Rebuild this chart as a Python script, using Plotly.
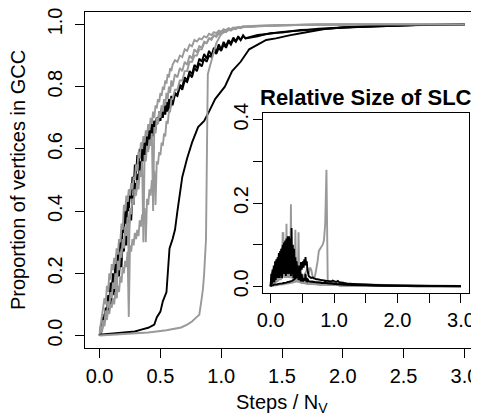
import plotly.graph_objects as go

# ---- shared sampling grids (Steps / N_V) ----
X_FINE = [0.00, 0.01, 0.02, 0.03, 0.04, 0.05, 0.06, 0.07, 0.08, 0.09, 0.10,
          0.11, 0.12, 0.13, 0.14, 0.15, 0.16, 0.17, 0.18, 0.19, 0.20,
          0.21, 0.22, 0.23, 0.24, 0.25, 0.26, 0.27, 0.28, 0.29, 0.30,
          0.31, 0.32, 0.33, 0.34, 0.35, 0.36, 0.37, 0.38, 0.39, 0.40,
          0.41, 0.42, 0.43, 0.44, 0.45, 0.46, 0.47, 0.48, 0.49, 0.50,
          0.51, 0.52, 0.53, 0.54, 0.55, 0.56, 0.57, 0.58, 0.59, 0.60]
X_MID = [0.62, 0.64, 0.66, 0.68, 0.70, 0.72, 0.74, 0.76, 0.78, 0.80,
         0.82, 0.84, 0.86, 0.88, 0.90, 0.92, 0.94, 0.96, 0.98, 1.00,
         1.02, 1.04, 1.06, 1.08, 1.10, 1.12, 1.14, 1.16, 1.18, 1.20]
X_TAIL = [1.3, 1.4, 1.5, 1.65, 1.8, 2.0, 2.3, 2.6, 3.0]

# ---- GCC proportion, noisy runs ----
B1_GCC = [.00, .03, .02, .06, .04, .09, .07, .13, .11, .17, .15,
          .20, .17, .23, .20, .27, .24, .31, .28, .35, .33,
          .40, .36, .43, .40, .47, .44, .51, .47, .55, .52,
          .58, .55, .60, .57, .62, .59, .64, .61, .65, .63,
          .67, .64, .68, .66, .69, .67, .70, .68, .71, .69,
          .72, .70, .73, .71, .74, .72, .745, .73, .755, .74,
          .775, .77, .805, .80, .83, .82, .85, .84, .87, .86,
          .89, .88, .905, .89, .915, .90, .925, .912, .936, .92,
          .944, .93, .95, .94, .958, .946, .962, .95, .965, .955,
          .962, .972, .974, .982, .984, .99, .994, .998, 1.0]
B2_GCC = [.00, .01, .04, .03, .07, .05, .09, .08, .12, .10, .14,
          .16, .13, .19, .16, .22, .19, .26, .22, .30, .27,
          .33, .29, .37, .33, .41, .37, .45, .42, .49, .46,
          .52, .49, .56, .52, .59, .56, .61, .58, .63, .60,
          .65, .62, .67, .64, .69, .66, .70, .68, .72, .70,
          .73, .71, .74, .72, .75, .73, .76, .745, .77, .755,
          .78, .775, .80, .79, .82, .815, .84, .83, .86, .85,
          .875, .865, .89, .88, .90, .895, .915, .905, .925, .915,
          .935, .925, .945, .935, .952, .944, .958, .95, .962, .956,
          .966, .97, .976, .98, .986, .99, .995, .998, 1.0]
G1_GCC = [.01, .04, .06, .09, .12, .10, .16, .14, .20, .18, .23,
          .21, .25, .23, .28, .26, .31, .30, .36, .34, .42,
          .40, .45, .43, .47, .45, .49, .47, .51, .50, .55,
          .53, .59, .57, .62, .60, .64, .62, .66, .64, .68,
          .66, .70, .68, .72, .70, .74, .73, .76, .75, .78,
          .77, .80, .79, .82, .81, .84, .83, .86, .85, .87,
          .885, .88, .90, .895, .92, .915, .935, .93, .95, .945,
          .955, .952, .962, .958, .97, .966, .975, .972, .98, .977,
          .985, .982, .988, .985, .99, .988, .992, .99, .994, .992,
          .995, .996, .998, .999, 1.0, 1.0, 1.0, 1.0, 1.0]
G2_GCC = [.00, .02, .01, .04, .03, .06, .05, .08, .07, .10, .09,
          .12, .10, .14, .12, .16, .14, .19, .17, .22, .20,
          .24, .22, .27, .06, .29, .27, .31, .29, .33, .31,
          .34, .32, .37, .35, .39, .37, .41, .30, .44, .42,
          .47, .45, .50, .48, .53, .42, .56, .55, .59, .58,
          .62, .61, .65, .64, .69, .68, .72, .72, .76, .76,
          .79, .79, .82, .82, .85, .85, .88, .88, .90, .90,
          .92, .92, .94, .94, .955, .955, .965, .965, .975, .975,
          .98, .98, .985, .985, .988, .99, .99, .992, .993, .994,
          .996, .997, .998, .999, 1.0, 1.0, 1.0, 1.0, 1.0]
G3_GCC = [.00, .03, .02, .05, .04, .08, .06, .11, .09, .14, .12,
          .17, .15, .20, .12, .24, .21, .27, .25, .31, .28,
          .35, .32, .38, .24, .41, .39, .44, .42, .47, .45,
          .50, .47, .53, .51, .56, .30, .58, .56, .61, .59,
          .63, .61, .65, .40, .67, .65, .70, .68, .72, .70,
          .74, .72, .76, .74, .78, .76, .80, .78, .82, .80,
          .84, .83, .86, .85, .88, .87, .90, .89, .92, .91,
          .93, .925, .945, .94, .955, .95, .965, .96, .97, .968,
          .978, .975, .983, .98, .987, .985, .99, .988, .993, .992,
          .995, .996, .998, .999, 1.0, 1.0, 1.0, 1.0, 1.0]

# ---- GCC proportion, smooth runs ----
B3_X = [0, 0.1, 0.2, 0.29, 0.35, 0.40, 0.45, 0.47, 0.50, 0.52, 0.55, 0.56, 0.575,
        0.60, 0.62, 0.64, 0.68, 0.72, 0.76, 0.81, 0.86, 0.90, 0.95, 1.03, 1.09,
        1.16, 1.23, 1.30, 1.37, 1.45, 1.56, 1.7, 1.85, 2.0, 2.2, 2.5, 2.8, 3.0]
B3_GCC = [0.003, 0.006, 0.009, 0.013, 0.02, 0.025, 0.035, 0.058, 0.077, 0.11, 0.14,
          0.2, 0.28, 0.31, 0.34, 0.40, 0.51, 0.57, 0.62, 0.67, 0.69, 0.72, 0.76,
          0.80, 0.85, 0.88, 0.92, 0.935, 0.95, 0.955, 0.965, 0.975, 0.985, 0.99,
          0.994, 0.997, 0.999, 1.0]
G4_X = [0, 0.2, 0.4, 0.55, 0.67, 0.72, 0.76, 0.80, 0.82, 0.84, 0.85, 0.86, 0.87,
        0.875, 0.883, 0.887, 0.89, 0.91, 0.93, 0.96, 1.0, 1.05, 1.15, 1.3, 1.6,
        2.0, 2.5, 3.0]
G4_GCC = [0.0, 0.004, 0.01, 0.017, 0.026, 0.035, 0.045, 0.06, 0.067, 0.12, 0.15,
          0.2, 0.27, 0.31, 0.6, 0.8, 0.84, 0.87, 0.90, 0.94, 0.97, 0.98, 0.99,
          0.995, 0.998, 1.0, 1.0, 1.0]

# ---- relative size of SLC (inset) ----
B1_SLC = [.00, .03, .005, .04, .01, .05, .01, .06, .015, .065, .02,
          .07, .02, .08, .02, .085, .025, .09, .02, .10, .03,
          .105, .03, .11, .025, .115, .03, .12, .03, .12, .035,
          .115, .03, .14, .03, .10, .025, .09, .02, .07, .02,
          .06, .02, .05, .015, .04, .015, .03, .012, .02, .012,
          .015, .012, .02, .015, .03, .015, .02, .013, .015, .012,
          .012, .011, .011, .01, .01, .01, .009, .009, .009, .008,
          .008, .008, .012, .008, .007, .007, .007, .006, .006, .006,
          .006, .005, .005, .005, .005, .004, .004, .004, .004, .004,
          .003, .003, .002, .002, .002, .001, .001, .001, .001]
B2_SLC = [.00, .02, .01, .035, .01, .045, .015, .05, .02, .06, .02,
          .065, .025, .075, .02, .08, .03, .09, .025, .095, .03,
          .10, .03, .105, .03, .11, .035, .10, .03, .09, .03,
          .085, .025, .08, .03, .075, .02, .07, .02, .06, .02,
          .05, .02, .045, .018, .04, .015, .035, .015, .03, .015,
          .02, .015, .018, .014, .016, .013, .015, .012, .014, .012,
          .012, .011, .011, .011, .01, .01, .01, .009, .009, .009,
          .009, .008, .008, .008, .008, .007, .007, .007, .007, .006,
          .006, .006, .006, .005, .005, .005, .005, .004, .004, .004,
          .004, .003, .003, .002, .002, .001, .001, .001, .001]
B3_SLC = [.002, .002, .003, .003, .003, .004, .004, .004, .005, .005, .005,
          .005, .006, .006, .006, .006, .007, .007, .007, .007, .008,
          .008, .008, .009, .009, .009, .01, .01, .01, .011, .011,
          .012, .012, .013, .013, .014, .015, .016, .017, .018, .02,
          .022, .03, .025, .04, .03, .05, .035, .058, .04, .052,
          .06, .045, .065, .05, .07, .05, .06, .04, .03, .025,
          .022, .02, .021, .019, .018, .017, .017, .016, .016, .015,
          .015, .014, .014, .013, .013, .013, .012, .012, .014, .012,
          .011, .011, .013, .01, .01, .009, .009, .008, .008, .007,
          .006, .005, .004, .003, .002, .002, .001, .001, .0]
G1_SLC = [.00, .01, .005, .015, .008, .02, .01, .025, .012, .03, .015,
          .035, .015, .04, .02, .045, .02, .05, .02, .13, .03,
          .04, .02, .045, .025, .05, .02, .045, .02, .04, .02,
          .03, .197, .02, .035, .015, .03, .015, .025, .012, .02,
          .012, .015, .01, .012, .01, .01, .009, .009, .008, .008,
          .008, .008, .007, .007, .007, .007, .006, .006, .006, .006,
          .006, .006, .005, .005, .005, .005, .005, .005, .004, .004,
          .004, .004, .004, .004, .004, .003, .003, .003, .003, .003,
          .003, .003, .003, .003, .002, .002, .002, .002, .002, .002,
          .002, .002, .001, .001, .001, .001, .0, .0, .0]
G2_SLC = [.00, .008, .004, .012, .006, .016, .008, .02, .01, .025, .012,
          .03, .015, .035, .018, .04, .02, .045, .02, .05, .025,
          .06, .02, .07, .025, .15, .03, .08, .03, .06, .025,
          .05, .02, .045, .02, .04, .02, .035, .02, .136, .02,
          .03, .015, .02, .012, .015, .01, .012, .01, .01, .009,
          .009, .008, .008, .008, .007, .007, .007, .006, .006, .006,
          .006, .006, .005, .005, .005, .005, .005, .004, .004, .004,
          .004, .004, .004, .004, .003, .003, .003, .003, .003, .003,
          .003, .003, .003, .002, .002, .002, .002, .002, .002, .002,
          .002, .001, .001, .001, .001, .001, .0, .0, .0]
G3_SLC = [.00, .006, .003, .01, .005, .014, .006, .018, .008, .02, .01,
          .025, .012, .03, .015, .035, .015, .04, .018, .045, .13,
          .03, .05, .02, .055, .025, .06, .02, .065, .025, .06,
          .02, .055, .02, .05, .018, .045, .015, .04, .015, .035,
          .015, .03, .012, .13, .012, .02, .01, .015, .009, .012,
          .009, .01, .008, .009, .008, .008, .007, .007, .007, .006,
          .006, .006, .006, .005, .005, .005, .005, .005, .004, .004,
          .004, .004, .004, .004, .004, .003, .003, .003, .003, .003,
          .003, .003, .003, .003, .002, .002, .002, .002, .002, .002,
          .002, .002, .001, .001, .001, .001, .0, .0, .0]
G4_SLC = [.000, .001, .001, .001, .002, .002, .002, .002, .003, .003, .003,
          .003, .003, .004, .004, .004, .004, .005, .005, .005, .005,
          .005, .006, .006, .006, .006, .007, .007, .007, .007, .008,
          .008, .008, .009, .009, .009, .01, .01, .01, .011, .011,
          .012, .012, .013, .013, .014, .015, .016, .017, .018, .02,
          .022, .024, .026, .028, .03, .035, .04, .045, .038, .03,
          .045, .04, .025, .02, .025, .04, .06, .085, .09, .095,
          .10, .11, .15, .28, .012, .01, .009, .009, .008, .008,
          .008, .007, .007, .007, .006, .006, .006, .006, .006, .006,
          .006, .005, .005, .004, .003, .002, .001, .0, .0]

X_ALL = X_FINE + X_MID + X_TAIL

TICK_MAIN_X = [0, 0.5, 1.0, 1.5, 2.0, 2.5, 3.0]
TICK_MAIN_X_TXT = ["0.0", "0.5", "1.0", "1.5", "2.0", "2.5", "3.0"]
TICK_MAIN_Y = [0, 0.2, 0.4, 0.6, 0.8, 1.0]
TICK_MAIN_Y_TXT = ["0.0", "0.2", "0.4", "0.6", "0.8", "1.0"]
TICK_IN_X = [0, 0.5, 1.0, 1.5, 2.0, 2.5, 3.0]
TICK_IN_X_TXT = ["0.0", "", "1.0", "", "2.0", "", "3.0"]
TICK_IN_Y = [0, 0.1, 0.2, 0.3, 0.4]
TICK_IN_Y_TXT = ["0.0", "", "0.2", "", "0.4"]

BLACK = "#000000"
GRAY = "#999999"
FONT = "Liberation Sans, Arial, Helvetica, sans-serif"
FS = 20
LW = 1.9

fig = go.Figure()

def add(x, y, color, xa="x", ya="y"):
    fig.add_trace(go.Scatter(x=x, y=y, mode="lines", xaxis=xa, yaxis=ya,
                             line=dict(color=color, width=LW, shape="linear"),
                             showlegend=False, hoverinfo="skip"))

# main panel
add(X_ALL, B1_GCC, BLACK)
add(X_ALL, B2_GCC, BLACK)
add(X_ALL, G1_GCC, GRAY)
add(X_ALL, G2_GCC, GRAY)
add(X_ALL, G3_GCC, GRAY)
add(B3_X, B3_GCC, BLACK)
add(G4_X, G4_GCC, GRAY)

# inset
add(X_ALL, G1_SLC, GRAY, "x2", "y2")
add(X_ALL, G2_SLC, GRAY, "x2", "y2")
add(X_ALL, G3_SLC, GRAY, "x2", "y2")
add(X_ALL, G4_SLC, GRAY, "x2", "y2")
add(X_ALL, B1_SLC, BLACK, "x2", "y2")
add(X_ALL, B2_SLC, BLACK, "x2", "y2")
add(X_ALL, B3_SLC, BLACK, "x2", "y2")

axis_common = dict(showgrid=False, zeroline=False, showline=True, linecolor="black",
                   linewidth=1.2, ticks="outside", ticklen=9, tickwidth=1,
                   tickcolor="black", ticklabeloverflow="allow",
                   tickfont=dict(family=FONT, size=FS, color="black"))

# the page body adds an 8px offset, so the figure is sized/margined to compensate
fig.update_layout(
    width=471, height=411,
    margin=dict(l=77, r=0, t=4, b=71, autoexpand=False),
    paper_bgcolor="white", plot_bgcolor="white",
    font=dict(family=FONT, size=FS, color="black"),
    xaxis=dict(domain=[0, 1], range=[-0.12, 3.12], tickmode="array",
               tickvals=TICK_MAIN_X, ticktext=TICK_MAIN_X_TXT, mirror=True,
               ticklabelstandoff=1, **axis_common),
    yaxis=dict(domain=[0, 1], range=[-0.04, 1.04], tickmode="array",
               tickvals=TICK_MAIN_Y, ticktext=TICK_MAIN_Y_TXT, tickangle=-90,
               ticklabelstandoff=5, **axis_common),
    xaxis2=dict(domain=[0.4518, 0.9736], anchor="y2", range=[-0.12, 3.12],
                tickmode="array", tickvals=TICK_IN_X, ticktext=TICK_IN_X_TXT,
                mirror=True, ticklabelstandoff=0, **axis_common),
    yaxis2=dict(domain=[0.1637, 0.6994], anchor="x2", range=[-0.016, 0.416],
                tickmode="array", tickvals=TICK_IN_Y, ticktext=TICK_IN_Y_TXT,
                tickangle=-90, mirror=True, ticklabelstandoff=-3, **axis_common),
    annotations=[
        dict(text="Steps / N<sub>V</sub>", xref="x", x=1.5, yref="paper", y=-0.165,
             xanchor="center", yanchor="middle", showarrow=False,
             font=dict(family=FONT, size=FS, color="black")),
        dict(text="Proportion of vertices in GCC", xref="paper", x=-0.170,
             yref="paper", y=0.5, textangle=-90, xanchor="center", yanchor="middle",
             showarrow=False, font=dict(family=FONT, size=FS, color="black")),
        dict(text="<b>Relative Size of SLC</b>", xref="paper", x=0.713,
             yref="paper", y=0.747, xanchor="center", yanchor="middle",
             showarrow=False, font=dict(family=FONT, size=22, color="black")),
    ],
)

fig.write_html("out.html")
